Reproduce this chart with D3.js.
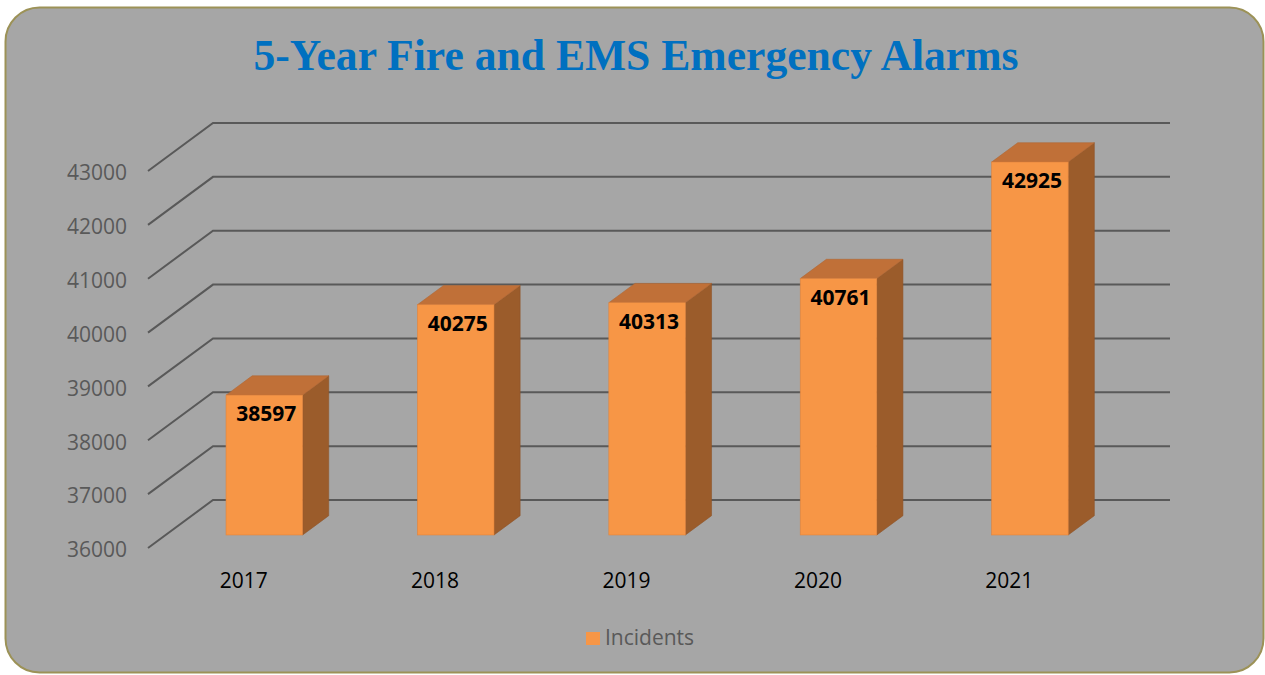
<!DOCTYPE html>
<html>
<head>
<meta charset="utf-8">
<script src="https://cdn.jsdelivr.net/npm/d3@7"></script>
<style>
  body { margin: 0; background: #fff; }
  svg { display: block; }
</style>
</head>
<body>
<div id="chart"></div>
<script>
var years = ["2017", "2018", "2019", "2020", "2021"];
var incidents = [38597, 40275, 40313, 40761, 42925];
var yTicks = [36000, 37000, 38000, 39000, 40000, 41000, 42000, 43000];
var seriesName = "Incidents";

renderChart();

function renderChart() {

var width = 1265;
var height = 675;

var svg = d3.select("#chart")
        .append("svg")
        .attr("width", width)
        .attr("height", height);

// chart area
svg.append("rect")
    .attr("x", 5.5).attr("y", 7.5)
    .attr("width", 1258).attr("height", 665)
    .attr("rx", 34).attr("ry", 34)
    .attr("fill", "#a6a6a6")
    .attr("stroke", "#9c9257")
    .attr("stroke-width", 2);

svg.append("text")
    .attr("x", 636).attr("y", 70)
    .attr("text-anchor", "middle")
    .attr("font-family", "'Liberation Serif', serif")
    .attr("font-weight", "bold")
    .attr("font-size", 44)
    .attr("fill", "#0070c0")
    .attr("textLength", 765)
    .attr("lengthAdjust", "spacingAndGlyphs")
    .text("5-Year Fire and EMS Emergency Alarms");

// back wall coords, front is shifted by depth vector
var depthX = -65, depthY = 48;

var y = d3.scaleLinear()
    .domain([36000, 43000])
    .range([500, 123]);

var x = d3.scaleBand()
    .domain(years)
    .range([213, 1170]);

// offset for a depth d (0 = front, 1 = back)
function off(d) { return [depthX * (1 - d), depthY * (1 - d)]; }

var grid = svg.append("g").attr("id", "grid");
grid.selectAll("path")
    .data(yTicks)
    .enter().append("path")
    .attr("d", function(t) {
        var yb = y(t);
        return "M" + (213 + depthX) + "," + (yb + depthY) +
               "L213," + yb + "L1170," + yb;
    })
    .attr("fill", "none")
    .attr("stroke", "#595959")
    .attr("stroke-width", 2);

var font = "'Open Sans', sans-serif";

svg.append("g")
    .selectAll("text")
    .data(yTicks)
    .enter().append("text")
    .attr("x", 127)
    .attr("y", function(t) { return y(t) + depthY + 2; })
    .attr("dy", "0.35em")
    .attr("text-anchor", "end")
    .attr("font-family", font)
    .attr("font-size", 21)
    .attr("fill", "#595959")
    .text(function(t) { return t; });

svg.append("g")
    .selectAll("text")
    .data(years)
    .enter().append("text")
    .attr("x", function(d) { return x(d) + x.bandwidth() / 2 + depthX; })
    .attr("y", 588)
    .attr("text-anchor", "middle")
    .attr("font-family", font)
    .attr("font-size", 21)
    .attr("fill", "#000")
    .text(function(d) { return d; });

// bars
var d1 = 0.271, d2 = 0.673;
var barW = x.bandwidth() * 0.4;
var f = off(d1), b = off(d2);

var bars = svg.append("g").attr("id", "bars")
    .selectAll("g")
    .data(years.map(function(yr, i) { return { year: yr, value: incidents[i] }; }))
    .enter().append("g");

function pts(arr) { return arr.map(function(p) { return p.join(","); }).join(" "); }

bars.each(function(d) {
    var g = d3.select(this);
    var xl = x(d.year) + (x.bandwidth() - barW) / 2 + 3;
    var xr = xl + barW;
    var yt = y(d.value), y0 = y(36000);
    var fl = xl + f[0], fr = xr + f[0], ft = yt + f[1], fb = y0 + f[1];
    var bl = xl + b[0], br = xr + b[0], bt = yt + b[1], bb = y0 + b[1];

    g.append("polygon")
        .attr("points", pts([[fr, ft], [br, bt], [br, bb], [fr, fb]]))
        .attr("fill", "#9b5c2b").attr("stroke", "#8e5428").attr("stroke-width", 0.6);
    g.append("polygon")
        .attr("points", pts([[fl, ft], [bl, bt], [br, bt], [fr, ft]]))
        .attr("fill", "#c07038").attr("stroke", "#b06632").attr("stroke-width", 0.6);
    g.append("rect")
        .attr("x", fl).attr("y", ft)
        .attr("width", barW).attr("height", fb - ft)
        .attr("fill", "#f79646").attr("stroke", "#e2843c").attr("stroke-width", 0.6);
    g.append("text")
        .attr("x", (fl + fr) / 2 + 2)
        .attr("y", ft + 26)
        .attr("text-anchor", "middle")
        .attr("font-family", font)
        .attr("font-weight", "bold")
        .attr("font-size", 21)
        .attr("fill", "#000")
        .text(d.value);
});

// legend
svg.append("rect")
    .attr("x", 586).attr("y", 632)
    .attr("width", 14).attr("height", 13)
    .attr("fill", "#f79646");
svg.append("text")
    .attr("x", 605).attr("y", 645)
    .attr("font-family", font)
    .attr("font-size", 21)
    .attr("fill", "#595959")
    .text(seriesName);

}
</script>
</body>
</html>
